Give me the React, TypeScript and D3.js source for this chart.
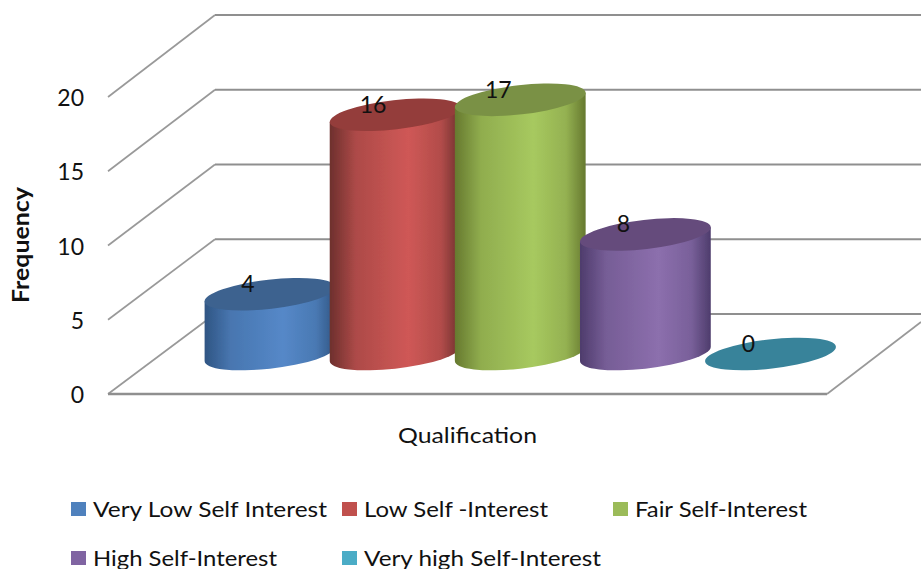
import React from "react";
import * as d3 from "d3";

const categories = ["Very Low Self Interest", "Low Self -Interest", "Fair Self-Interest", "High Self-Interest", "Very high Self-Interest"];
const values = [4, 16, 17, 8, 0];
const ticks = [0, 5, 10, 15, 20];
const sideEdge = ["#2f5583", "#6d2f2d", "#66792f", "#4e3c6c", "#2f7a90"];
const sideMid = ["#5588c8", "#cf5856", "#a7c95f", "#8c6fad", "#4bacc6"];
const caps = ["#3d628f", "#943c3a", "#7a9145", "#654c7c", "#38839a"];
const swatches = ["#4f81bd", "#c0504d", "#9bbb59", "#8064a2", "#4bacc6"];
const legendPos: [number, number, number, number][] = [
  [71, 509, 93, 234], [342, 509, 364, 184], [613, 509, 635, 172], [71, 558, 93, 184], [342, 558, 364, 237],
];

const FONT = "Lato, 'Open Sans', sans-serif";
const frontY = d3.scaleLinear().domain([0, 20]).range([394, 97]);
const backY = d3.scaleLinear().domain([0, 20]).range([314, 15]);
const heightY = d3.scaleLinear().domain([0, 20]).range([0, 299]);
const x = d3.scalePoint<string>().domain(categories).range([270, 770.5]);
const BASE = 354, RX = 65.8, RY = 14.6, ROT = -6.5;
const th = (Math.abs(ROT) * Math.PI) / 180;
const W = Math.sqrt(RX * RX * Math.cos(th) ** 2 + RY * RY * Math.sin(th) ** 2);
const TAN = ((RX * RX - RY * RY) * Math.sin(th) * Math.cos(th)) / W;
const GRID = "#8f8f8f";

export default function App() {
  return (
    <svg width={921} height={569} viewBox="0 0 921 569" style={{ position: "fixed", left: 0, top: 0, background: "#fff" }}>
      <defs>
        {categories.map((_, i) => (
          <linearGradient key={i} id={`g${i}`} x1="0" x2="1" y1="0" y2="0">
            <stop offset="0" stopColor={sideEdge[i]} />
            <stop offset="0.2" stopColor={d3.interpolateRgb(sideEdge[i], sideMid[i])(0.65)} />
            <stop offset="0.6" stopColor={sideMid[i]} />
            <stop offset="0.85" stopColor={d3.interpolateRgb(sideEdge[i], sideMid[i])(0.7)} />
            <stop offset="1" stopColor={sideEdge[i]} />
          </linearGradient>
        ))}
        <filter id="soft" x="-5%" y="-5%" width="110%" height="110%">
          <feGaussianBlur stdDeviation="0.5" />
        </filter>
      </defs>
      <g filter="url(#soft)">
        {ticks.map((t) => (
          <g key={t}>
            <line x1={108} y1={frontY(t)} x2={215} y2={backY(t)} stroke="#999" strokeWidth={1.7} />
            <line x1={215} y1={backY(t)} x2={921} y2={backY(t)} stroke={GRID} strokeWidth={2.2} />
          </g>
        ))}
        <line x1={108} y1={frontY(0)} x2={827} y2={frontY(0)} stroke={GRID} strokeWidth={2.6} />
        <line x1={827} y1={frontY(0)} x2={921} y2={322} stroke="#999" strokeWidth={1.7} />
        {categories.map((c, i) => {
          const cx = x(c)!;
          const h = heightY(values[i]);
          const top = BASE - h;
          const side = `M${cx - W},${top + TAN}L${cx - W},${BASE + TAN}A${RX},${RY} ${ROT} 0 0 ${cx + W},${BASE - TAN}L${cx + W},${top - TAN}Z`;
          return (
            <g key={c}>
              {h > 0 && <path d={side} fill={`url(#g${i})`} />}
              <ellipse cx={cx} cy={top} rx={RX} ry={RY} transform={`rotate(${ROT} ${cx} ${top})`} fill={caps[i]} />
            </g>
          );
        })}
      </g>
      <g fontFamily={FONT} fill="#111">
        {categories.map((c, i) => (
          <text key={c} x={x(c)! - 22} y={BASE - heightY(values[i]) - 2} textAnchor="middle" fontSize={23}>{values[i]}</text>
        ))}
        {ticks.map((t) => (
          <text key={t} x={84} y={frontY(t) + 9} textAnchor="end" fontSize={23}>{t}</text>
        ))}
        <text transform="translate(29,245) rotate(-90)" textAnchor="middle" fontSize={23.5} fontWeight={700} textLength={116} lengthAdjust="spacingAndGlyphs">Frequency</text>
        <text x={398} y={443} fontSize={21.5} textLength={139} lengthAdjust="spacingAndGlyphs">Qualification</text>
        {categories.map((c, i) => {
          const [sx, sy, tx, len] = legendPos[i];
          return (
            <g key={c}>
              <rect x={sx} y={sy - 7} width={15} height={14} fill={swatches[i]} />
              <text x={tx} y={sy + 7.5} fontSize={22} textLength={len} lengthAdjust="spacingAndGlyphs">{c}</text>
            </g>
          );
        })}
      </g>
    </svg>
  );
}
